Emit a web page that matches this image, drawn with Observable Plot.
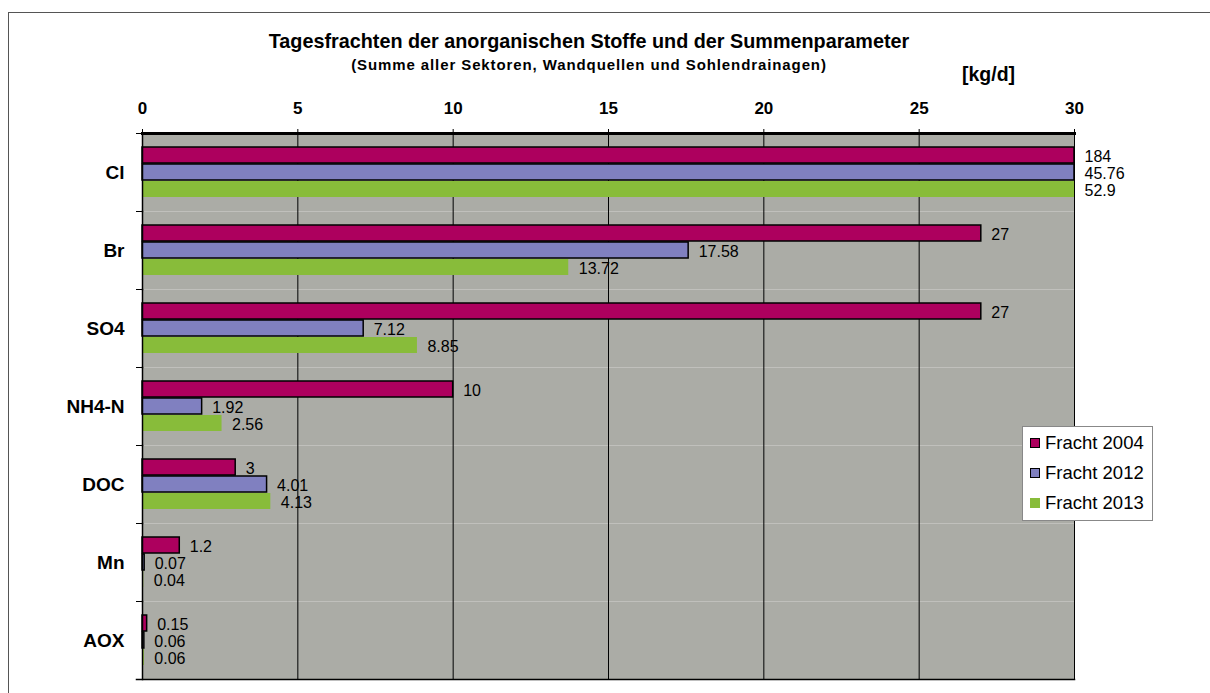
<!DOCTYPE html>
<html>
<head>
<meta charset="utf-8">
<script src="https://cdn.jsdelivr.net/npm/d3@7"></script>
<script src="https://cdn.jsdelivr.net/npm/@observablehq/plot@0.6"></script>
<style>
  html, body { margin: 0; padding: 0; background: #fff; }
  #wrap { position: relative; width: 1210px; height: 693px; overflow: hidden; font-family: "Liberation Sans", Arial, sans-serif; }
  #border { position: absolute; left: 8px; top: 12px; right: -2px; bottom: -2px; border-top: 1.5px solid #555; border-left: 1.5px solid #555; }
  #chart { position: absolute; left: 0; top: 0; }
  .t { position: absolute; font-weight: bold; white-space: nowrap; color: #000; line-height: 1; }
  #title { left: 0; width: 1178px; text-align: center; top: 32px; font-size: 19.8px; }
  #subtitle { left: 0; width: 1178px; text-align: center; top: 57px; font-size: 15px; letter-spacing: 0.9px; }
  #unit { left: 962px; top: 65px; font-size: 19.5px; }
  #legend { position: absolute; left: 1022px; top: 426px; width: 131px; height: 95px; border: 1px solid #888; background: #fff; box-sizing: border-box; padding-top: 1px; }
  .li { display: flex; align-items: center; height: 30px; font-size: 18.5px; padding-left: 7px; }
  .sw { width: 10px; height: 10px; box-sizing: border-box; margin-right: 5px; }
</style>
</head>
<body>
<div id="wrap">
  <div id="border"></div>
  <div id="chart"></div>
  <div class="t" id="title">Tagesfrachten der anorganischen Stoffe und der Summenparameter</div>
  <div class="t" id="subtitle">(Summe aller Sektoren, Wandquellen und Sohlendrainagen)</div>
  <div class="t" id="unit">[kg/d]</div>
  <div id="legend"></div>
</div>
<script>
const categories = ["Cl", "Br", "SO4", "NH4-N", "DOC", "Mn", "AOX"];
const series = ["Fracht 2004", "Fracht 2012", "Fracht 2013"];
const values2004 = [184, 27, 27, 10, 3, 1.2, 0.15];
const values2012 = [45.76, 17.58, 7.12, 1.92, 4.01, 0.07, 0.06];
const values2013 = [52.9, 13.72, 8.85, 2.56, 4.13, 0.04, 0.06];
const xTicks = [0, 5, 10, 15, 20, 25, 30];
const colors = ["#ad005e", "#8080c0", "#88bc3a"];
const outlined = ["Fracht 2004", "Fracht 2012"];
const plotBg = "#abaca6";

const seriesValues = [values2004, values2012, values2013];
const data = [];
categories.forEach((cat, i) => {
  series.forEach((s, j) => data.push({cat, series: s, value: seriesValues[j][i]}));
});

const W = 1210, H = 693, mL = 142, mR = 136, mT = 132, mB = 13;
const innerW = W - mL - mR;

const chart = Plot.plot({
  width: W, height: H,
  marginLeft: mL, marginRight: mR, marginTop: mT, marginBottom: mB,
  style: {fontFamily: "'Liberation Sans', Arial, sans-serif", background: "transparent", color: "#000"},
  x: {domain: [0, 30], clamp: true},
  fy: {domain: categories, padding: 0, label: null},
  y: {domain: series, paddingInner: 0.05, paddingOuter: 0.78, axis: null},
  color: {domain: series, range: colors},
  marks: [
    Plot.frame({fill: plotBg, stroke: "none"}),
    Plot.gridX({ticks: xTicks, stroke: "#000", strokeOpacity: 1, strokeWidth: 1}),
    Plot.barX(data, {filter: d => !outlined.includes(d.series), fy: "cat", y: "series", x: "value", fill: "series"}),
    Plot.barX(data, {filter: d => outlined.includes(d.series), fy: "cat", y: "series", x: "value", fill: "series", stroke: "#000", strokeWidth: 1.5}),
    Plot.text(data, {fy: "cat", y: "series", x: "value", text: d => String(d.value), textAnchor: "start", dx: 10, dy: 1, fontSize: 16, fill: "#000"}),
    Plot.frame({anchor: "left", stroke: "#000", strokeWidth: 1.5}),
    Plot.frame({anchor: "top", stroke: "#000", strokeWidth: 1, insetLeft: -6, insetRight: innerW}),
    Plot.frame({anchor: "bottom", stroke: "#000", strokeWidth: 1.5, insetLeft: -6, facetAnchor: "bottom"}),
    Plot.frame({anchor: "top", stroke: "#000", strokeWidth: 3, facetAnchor: "top"}),
    Plot.axisX({anchor: "top", ticks: xTicks, tickSize: 5, tickPadding: 15, fontSize: 17, fontWeight: "bold", label: null}),
    Plot.axisFy({anchor: "left", tickSize: 0, tickPadding: 18, fontSize: 19, fontWeight: "bold", label: null})
  ]
});
document.getElementById("chart").appendChild(chart);

const legend = document.getElementById("legend");
series.forEach((s, j) => {
  const row = document.createElement("div");
  row.className = "li";
  const sw = document.createElement("div");
  sw.className = "sw";
  sw.style.background = colors[j];
  if (outlined.includes(s)) sw.style.border = "1px solid #000";
  row.appendChild(sw);
  const tx = document.createElement("span");
  tx.textContent = s;
  row.appendChild(tx);
  legend.appendChild(row);
});
</script>
</body>
</html>
